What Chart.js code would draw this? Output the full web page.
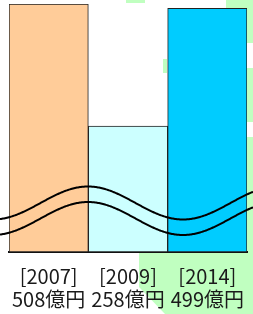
<!DOCTYPE html>
<html>
<head>
<meta charset="utf-8">
<script src="https://cdn.jsdelivr.net/npm/chart.js@4/dist/chart.umd.min.js"></script>
<style>
  html, body { margin: 0; padding: 0; background: #fff; }
  #wrap { position: relative; width: 253px; height: 314px; overflow: hidden; }
  .g { position: absolute; background: #c0ffc0; }
  canvas { position: absolute; left: 0; top: 0; }
</style>
</head>
<body>
<div id="wrap">
  <!-- background decoration -->
  <div class="g" style="left:126px;top:0;width:19px;height:3px"></div>
  <div class="g" style="left:163px;top:59px;width:4px;height:14px"></div>
  <div class="g" style="left:226px;top:0;width:27px;height:9px"></div>
  <div class="g" style="left:247px;top:0;width:6px;height:43px"></div>
  <div class="g" style="left:247px;top:68px;width:6px;height:54px"></div>
  <div class="g" style="left:247px;top:137px;width:6px;height:120px"></div>
  <div class="g" style="left:0;top:0;width:253px;height:314px;clip-path:polygon(139px 253px,253px 253px,253px 314px,165px 314px,139px 287px)"></div>
  <canvas id="c" width="253" height="314"></canvas>
</div>
<script>
const years = ["2007", "2009", "2014"];
const values = [508, 258, 499];
const colors = ["#ffcc99", "#ccffff", "#00ccff"];

const labels = years.map((y, i) => ["[" + y + "]", values[i] + "億円"]);

// wavy double line (axis break mark)
const waveLines = {
  id: "waveLines",
  afterDatasetsDraw(chart) {
    const ctx = chart.ctx;
    ctx.save();
    ctx.strokeStyle = "#000";
    ctx.lineWidth = 2;
    [203, 218.5].forEach(mid => {
      ctx.beginPath();
      for (let x = 0; x <= chart.width; x++) {
        const y = mid - 16.5 * Math.cos(Math.PI * (x - 88) / 95);
        if (x == 0) ctx.moveTo(x, y); else ctx.lineTo(x, y);
      }
      ctx.stroke();
    });
    ctx.restore();
  }
};

new Chart(document.getElementById("c"), {
  type: "bar",
  data: {
    labels: labels,
    datasets: [{
      data: values,
      backgroundColor: colors,
      borderColor: "#222",
      borderWidth: 1,
      borderSkipped: false,
      categoryPercentage: 1,
      barPercentage: 1
    }]
  },
  options: {
    responsive: false,
    animation: false,
    layout: { padding: { left: 9, right: 6, top: 4, bottom: 0 } },
    plugins: { legend: { display: false }, tooltip: { enabled: false } },
    scales: {
      y: { display: false, min: 0, max: 508 },
      x: {
        grid: { display: false, drawTicks: false },
        border: { display: true, color: "#111", width: 2 },
        ticks: {
          color: "#1a1a1a",
          padding: 13,
          autoSkip: false,
          maxRotation: 0,
          font: { family: "'Noto Sans CJK JP'", size: 20, lineHeight: 1.15 }
        },
        afterFit(scale) {
          scale.height = 62;
          scale.paddingLeft = 0;
          scale.paddingRight = 0;
        }
      }
    }
  },
  plugins: [waveLines]
});
</script>
</body>
</html>
